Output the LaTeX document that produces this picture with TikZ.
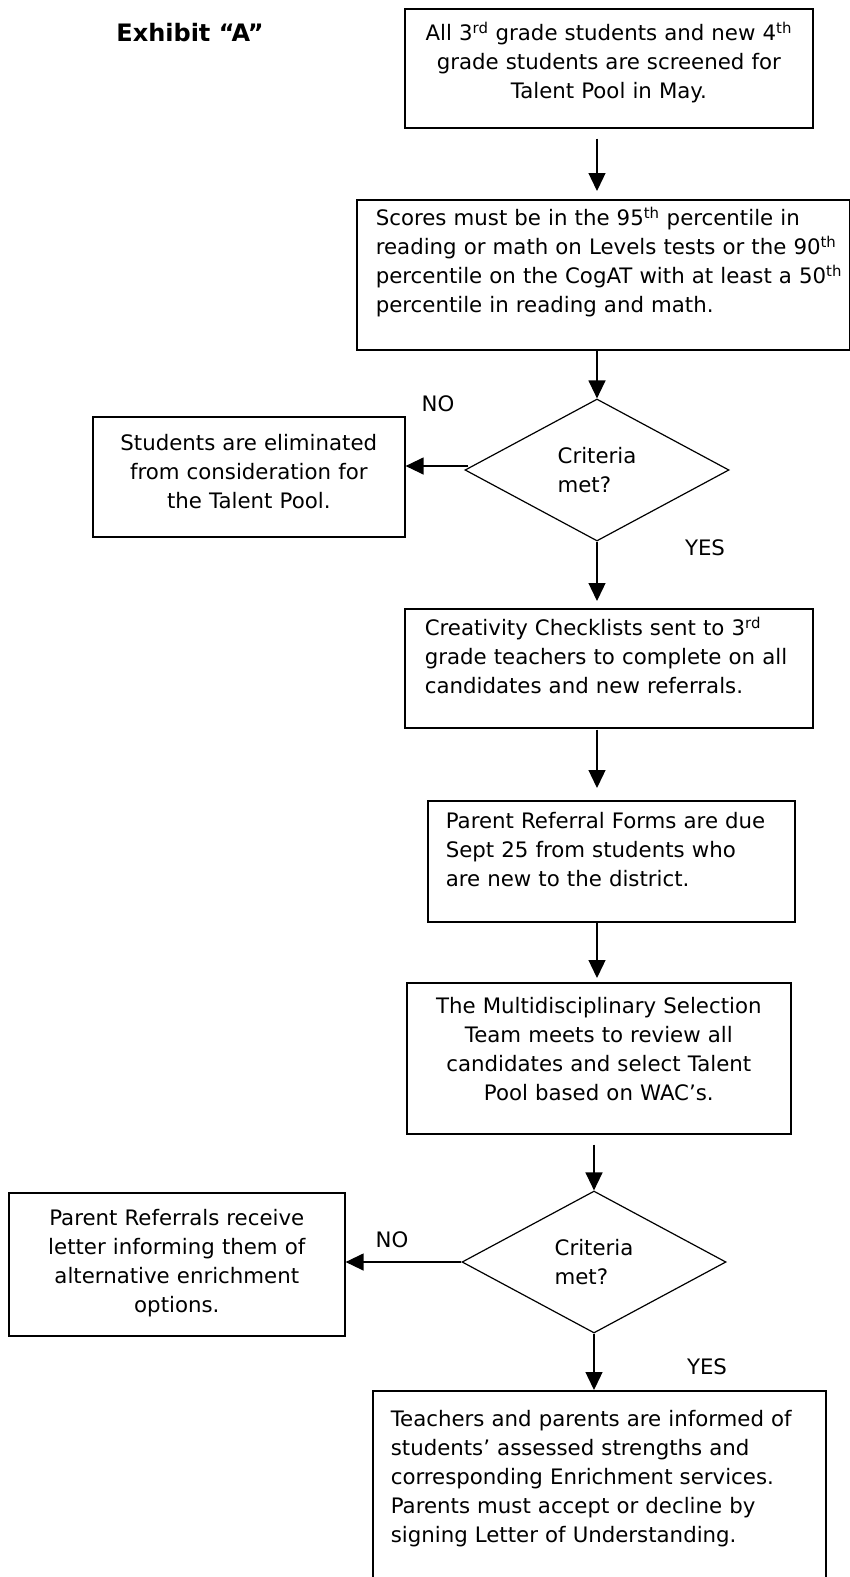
\documentclass[tikz,border=0pt]{standalone}
\usepackage{fontspec}
\setmainfont{DejaVu Sans}
\usetikzlibrary{shapes.geometric,arrows.meta}
\newcommand\stepfont{\fontsize{21.3}{29}\selectfont}
\newcommand\exhibitfont{\fontsize{24}{29}\selectfont\bfseries}
\tikzset{
stepbox/.style={draw=black!100, line width=1.6pt, anchor=north west, inner ysep=0pt, inner xsep=18pt, font=\stepfont},
choicebox/.style={diamond, draw=black!100, line width=1.2pt, minimum width=264pt, minimum height=142pt, inner sep=0pt, align=left, font=\stepfont},
answer/.style={font=\stepfont, inner sep=0pt},
flowarrow/.style={line width=1.3pt, -{Triangle[width=17pt,length=18pt]}},
}

\begin{document}
\begin{tikzpicture}[x=1pt,y=-1pt]
\useasboundingbox (0,0) rectangle (850,1577);
\node[font=\exhibitfont, inner sep=0pt, anchor=base] at (190,41) (exhibit) {Exhibit “A”};

\node[stepbox, text width=372pt, align=center, text height=32pt, text depth=87pt] at (404,8) (screen) {All 3\textsuperscript{rd} grade students and new 4\textsuperscript{th}\\ grade students are screened for\\ Talent Pool in May.};
\node[stepbox, inner xsep=19pt, text width=455pt, align=left, text height=26pt, text depth=124pt] at (356,199) (scores) {Scores must be in the 95\textsuperscript{th} percentile in\\ \mbox{reading or math on Levels tests or the 90\textsuperscript{th}}\\ \mbox{percentile on the CogAT with at least a 50\textsuperscript{th}}\\ percentile in reading and math.};
\node[choicebox] at (597,470) (crit1) {Criteria\\ met?};
\node[stepbox, inner xsep=10pt, text width=292pt, align=center, text height=34pt, text depth=86pt] at (92,416) (elim) {Students are eliminated\\ from consideration for\\ the Talent Pool.};
\node[answer] at (438,404) (no1) {NO};
\node[answer] at (705,548) (yes1) {YES};

\node[stepbox, inner xsep=20pt, text width=368pt, align=left, text height=27pt, text depth=92pt] at (404,608) (checklist) {Creativity Checklists sent to 3\textsuperscript{rd}\\ grade teachers to complete on all\\ candidates and new referrals.};
\node[stepbox, text width=331pt, align=left, text height=28pt, text depth=93pt] at (427,800) (referral) {Parent Referral Forms are due\\ Sept 25 from students who\\ are new to the district.};
\node[stepbox, inner xsep=10pt, text width=364pt, align=center, text height=31pt, text depth=120pt] at (406,982) (team) {The Multidisciplinary Selection\\ Team meets to review all\\ candidates and select Talent\\ Pool based on WAC’s.};

\node[choicebox] at (594,1262) (crit2) {Criteria\\ met?};
\node[stepbox, inner xsep=10pt, text width=316pt, align=center, text height=33pt, text depth=110pt] at (8,1192) (letter) {Parent Referrals receive\\ letter informing them of\\ alternative enrichment\\ options.};
\node[answer] at (392,1240) (no2) {NO};
\node[answer] at (707,1367) (yes2) {YES};
\node[stepbox, text width=417pt, align=left, text height=36pt, text depth=224pt] at (372,1390) (inform) {Teachers and parents are informed of\\ students’ assessed strengths and\\ corresponding Enrichment services.\\ Parents must accept or decline by\\ signing Letter of Understanding.};

\draw[flowarrow, shorten <=10pt, shorten >=8pt] (screen.south -| crit1.north) -- (scores.north -| crit1.north);
\draw[flowarrow] (scores.south -| crit1.north) -- (crit1.north);
\draw[flowarrow, shorten <=-4pt] ([yshift=4pt]crit1.west) -- ([yshift=4pt]elim.east |- crit1.west);
\draw[flowarrow, shorten >=7pt] (crit1.south) -- (checklist.north -| crit1.south);
\draw[flowarrow, shorten <=1pt, shorten >=12pt] (checklist.south -| crit1.south) -- (referral.north -| crit1.south);
\draw[flowarrow, shorten >=4pt] (referral.south -| crit1.south) -- (team.north -| crit1.south);
\draw[flowarrow, shorten <=10pt] (team.south -| crit2.north) -- (crit2.north);
\draw[flowarrow] (crit2.west) -- (letter.east |- crit2.west);
\draw[flowarrow] (crit2.south) -- (inform.north -| crit2.south);
\end{tikzpicture}
\end{document}
